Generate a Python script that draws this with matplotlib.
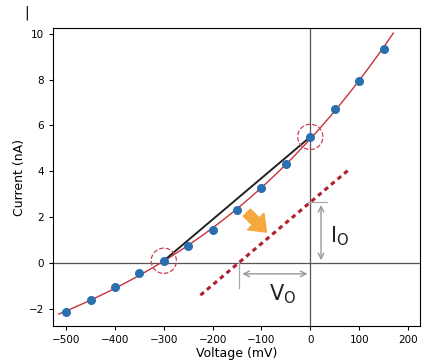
import numpy as np
import matplotlib.pyplot as plt

# measured I-V points
voltage = np.array([-500, -450, -400, -350, -300, -250, -200, -150, -100, -50, 0, 50, 100, 150])
current = np.array([-2.15, -1.6, -1.05, -0.45, 0.1, 0.75, 1.45, 2.3, 3.25, 4.3, 5.5, 6.7, 7.95, 9.35])

# chord between the two circled points
chord_v = [-300, 0]
chord_i = [0.1, 5.5]

# shifted line through the offsets
v0 = -145
i0 = 2.65
shift_v = [-225, 78]

fig = plt.figure(figsize=(4.27, 3.62), dpi=100)
ax = fig.add_axes([0.124, 0.099, 0.86, 0.824])

ax.axhline(0, color='#555555', lw=0.9, zorder=1)
ax.axvline(0, color='#555555', lw=0.9, zorder=1)

# fitted curve
coef = np.polyfit(voltage, current, 3)
vfit = np.linspace(-515, 170, 300)
ax.plot(vfit, np.polyval(coef, vfit), color='#c8323c', lw=1.0, zorder=2)

ax.plot(chord_v, chord_i, color='#222222', lw=1.4, zorder=3)

slope = (chord_i[1] - chord_i[0]) / (chord_v[1] - chord_v[0])
sv = np.array(shift_v)
ax.plot(sv, i0 + slope * sv, color='#b0202c', lw=2.2, ls=(0, (1.5, 1.3)), zorder=3)

ax.scatter(voltage, current, s=30, color='#2a6fb0', zorder=4)
ax.scatter(chord_v, chord_i, s=330, facecolors='none', edgecolors='#d04050',
           linestyles='--', linewidths=0.9, zorder=5)

# I0 marker
ax.annotate('', xy=(22, 0), xytext=(22, i0),
            arrowprops=dict(arrowstyle='<->', color='#999999', lw=1.0))
ax.plot([-5, 35], [i0, i0], color='#aaaaaa', lw=0.9)
ax.text(40, 1.15, r'I$_\mathregular{O}$', fontsize=15, color='#222222', va='center')

# V0 marker
ax.annotate('', xy=(v0, -0.47), xytext=(0, -0.47),
            arrowprops=dict(arrowstyle='<->', color='#999999', lw=1.0))
ax.plot([v0, v0], [0.1, -1.1], color='#aaaaaa', lw=0.9)
ax.text(-85, -1.35, r'V$_\mathregular{O}$', fontsize=15, color='#222222', va='center')

# orange shift arrow
ax.annotate('', xy=(-90, 1.35), xytext=(-130, 2.2),
            arrowprops=dict(arrowstyle='simple,head_width=1.4,head_length=0.9,tail_width=0.6',
                            color='#f4a83e', mutation_scale=12, shrinkA=0, shrinkB=0),
            zorder=6)

ax.set_xlim(-527, 225)
ax.set_ylim(-2.75, 10.25)
ax.set_xticks([-500, -400, -300, -200, -100, 0, 100, 200])
ax.set_yticks([-2, 0, 2, 4, 6, 8, 10])
ax.tick_params(labelsize=7.5, length=3)
ax.set_xlabel('Voltage (mV)', fontsize=9, labelpad=1)
ax.set_ylabel('Current (nA)', fontsize=9, labelpad=2)

fig.text(0.063, 0.965, '|', fontsize=10, ha='center', va='center')

fig.savefig('out.png', dpi=100)
